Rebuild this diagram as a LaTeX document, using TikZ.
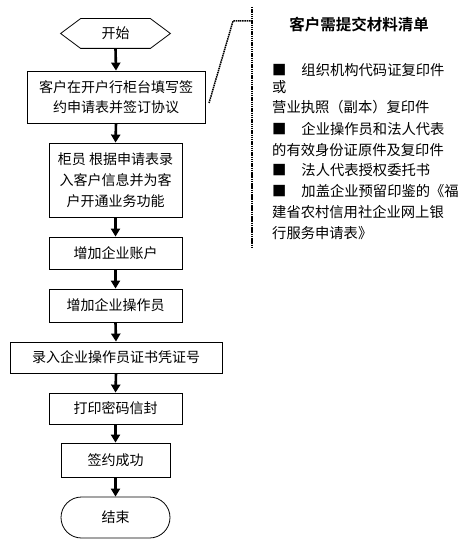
\documentclass[tikz,border=0pt]{standalone}
\usepackage{fontspec}
\setmainfont{Noto Sans CJK SC}[BoldFont={Noto Sans CJK SC Bold}]
\usetikzlibrary{arrows.meta,shapes.misc}
\begin{document}
\begin{tikzpicture}[x=1pt,y=-1pt,
  box/.style={draw,line width=0.8pt,inner sep=0pt,align=center,font=\fontsize{14}{20}\selectfont},
  flow/.style={line width=2.6pt,-{Triangle[width=9pt,length=8pt]}},
  side/.style={anchor=west,inner sep=0pt,font=\fontsize{14.3}{20}\selectfont},
  callout/.style={line width=1.5pt,dash pattern=on 1.5pt off 0.7pt}]
\useasboundingbox[fill=white] (0,0) rectangle (466,548);
% flow chart
\node[box,draw=none,minimum width=109pt,minimum height=29pt] (start) at (115.5,33.5) {开始};
\draw[line width=0.8pt] (start.west) -- ([xshift=20pt]start.north west) -- ([xshift=-20pt]start.north east) -- (start.east) -- ([xshift=-20pt]start.south east) -- ([xshift=20pt]start.south west) -- cycle;
\node[box,minimum width=178pt,minimum height=52pt] (b1) at (116,97) {客户在开户行柜台填写签\\约申请表并签订协议};
\node[box,minimum width=133pt,minimum height=74pt,font=\fontsize{14}{21}\selectfont] (b2) at (115.5,180) {柜员 根据申请表录\\入客户信息并为客\\户开通业务功能};
\node[box,minimum width=133pt,minimum height=32pt] (b3) at (115.5,253) {增加企业账户};
\node[box,minimum width=133pt,minimum height=33pt] (b4) at (115.5,305.5) {增加企业操作员};
\node[box,minimum width=212pt,minimum height=31pt] (b5) at (116,357.5) {录入企业操作员证书凭证号};
\node[box,minimum width=133pt,minimum height=31pt] (b6) at (115.5,408.5) {打印密码信封};
\node[box,minimum width=109pt,minimum height=34pt] (b7) at (115.5,460) {签约成功};
\node[box,rounded rectangle,minimum width=109pt,minimum height=41pt] (end) at (115.5,517.5) {结束};
\draw[flow] (start.south) -- (b1.north);
\draw[flow] (b1.south) -- (b2.north);
\draw[flow] (b2.south) -- (b3.north);
\draw[flow] (b3.south) -- (b4.north);
\draw[flow] (b4.south) -- (b5.north);
\draw[flow] (b5.south) -- (b6.north);
\draw[flow] (b6.south) -- (b7.north);
\draw[flow] (b7.south) -- (end.north);
% callout
\coordinate (c1) at (209,103);
\coordinate (c2) at (233,21);
\coordinate (c3) at (252,21);
\coordinate (v1) at (252,7);
\coordinate (v2) at (252,247);
\draw[callout] (c1) -- (c2) -- (c3);
\draw[callout] (v1) -- (v2);
% list
\node[font=\bfseries\fontsize{15.5}{18}\selectfont] (title) at (359,25) {客户需提交材料清单};
\node[side] (l1) at (272,70) {■\hspace{15pt}组织机构代码证复印件};
\node[side] (l2) at (272,87) {或};
\node[side] (l3) at (272,107) {营业执照（副本）复印件};
\node[side] (l4) at (272,129) {■\hspace{15pt}企业操作员和法人代表};
\node[side] (l5) at (272,150) {的有效身份证原件及复印件};
\node[side] (l6) at (272,170) {■\hspace{15pt}法人代表授权委托书};
\node[side] (l7) at (272,191) {■\hspace{15pt}加盖企业预留印鉴的《福};
\node[side] (l8) at (272,212) {建省农村信用社企业网上银};
\node[side] (l9) at (272,233) {行服务申请表》};
\end{tikzpicture}
\end{document}
